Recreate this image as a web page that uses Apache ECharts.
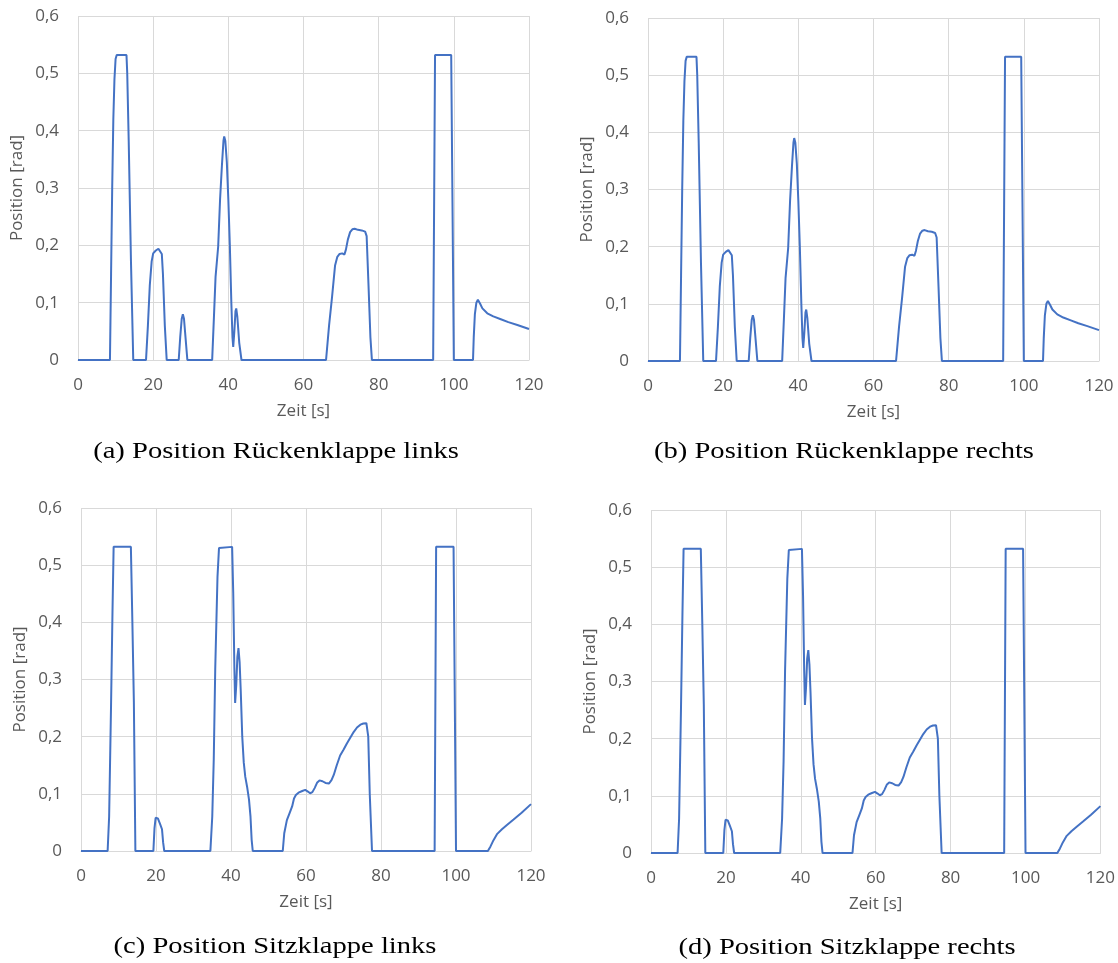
<!DOCTYPE html>
<html>
<head>
<meta charset="utf-8">
<script src="https://cdn.jsdelivr.net/npm/echarts@6/dist/echarts.min.js"></script>
<style>
  html, body { margin: 0; padding: 0; background: #fff; }
  #chart { width: 1118px; height: 963px; }
</style>
</head>
<body>
<div id="chart"></div>
<script>
// Axis ticks
const xTicks = [0, 20, 40, 60, 80, 100, 120];
const yTickLabels = ['0', '0,1', '0,2', '0,3', '0,4', '0,5', '0,6'];

// Panel captions
const captions = [
  '(a) Position Rückenklappe links',
  '(b) Position Rückenklappe rechts',
  '(c) Position Sitzklappe links',
  '(d) Position Sitzklappe rechts'
];

// Flap positions [Zeit s, Position rad]
const rueckenklappeLinks = [
  [0, 0], [8.5, 0], [8.8, 0.15], [9.1, 0.3], [9.4, 0.42], [9.7, 0.49], [10.0, 0.525], [10.3, 0.532],
  [12.9, 0.532], [13.1, 0.5], [13.5, 0.38], [14.1, 0.17], [14.7, 0],
  [18.1, 0], [18.6, 0.06], [19.1, 0.13], [19.6, 0.172], [20.0, 0.186], [20.7, 0.191], [21.4, 0.194],
  [21.9, 0.195], [22.3, 0.185], [22.6, 0.15], [23.1, 0.06], [23.6, 0],
  [26.8, 0], [27.2, 0.04], [27.6, 0.072], [27.9, 0.08], [28.2, 0.072], [28.6, 0.04], [29.1, 0],
  [35.7, 0], [36.2, 0.08], [36.6, 0.145], [37.3, 0.198], [37.8, 0.28], [38.3, 0.34], [38.7, 0.382],
  [38.9, 0.39], [39.2, 0.382], [39.6, 0.345], [40.0, 0.28], [40.4, 0.2], [40.8, 0.1], [41.1, 0.04],
  [41.3, 0.023], [41.6, 0.05], [41.9, 0.085], [42.1, 0.09], [42.4, 0.075], [42.9, 0.03], [43.5, 0],
  [66.0, 0], [66.8, 0.06], [67.6, 0.11], [68.4, 0.165], [69.0, 0.18], [69.6, 0.185], [70.3, 0.186],
  [70.9, 0.184], [71.3, 0.193], [71.8, 0.21], [72.4, 0.223], [73.0, 0.228], [73.6, 0.229], [74.5, 0.227],
  [75.5, 0.226], [76.4, 0.224], [76.8, 0.216], [77.3, 0.13], [77.8, 0.04], [78.2, 0],
  [94.5, 0], [95.0, 0.532], [99.3, 0.532], [100.0, 0],
  [105.1, 0], [105.3, 0.04], [105.6, 0.08], [106.0, 0.1], [106.4, 0.105], [107.0, 0.098], [107.6, 0.09],
  [108.9, 0.0815], [110.5, 0.076], [112.5, 0.071], [114.5, 0.066], [116.9, 0.061], [120, 0.054]
];

const rueckenklappeRechts = [
  [0, 0], [8.5, 0], [8.8, 0.15], [9.1, 0.3], [9.4, 0.42], [9.7, 0.49], [10.0, 0.525], [10.3, 0.532],
  [12.9, 0.532], [13.1, 0.5], [13.5, 0.38], [14.1, 0.17], [14.7, 0],
  [18.1, 0], [18.6, 0.06], [19.1, 0.13], [19.6, 0.172], [20.0, 0.186], [20.7, 0.191], [21.4, 0.194],
  [21.9, 0.195], [22.3, 0.185], [22.6, 0.15], [23.1, 0.06], [23.6, 0],
  [26.8, 0], [27.2, 0.04], [27.6, 0.072], [27.9, 0.08], [28.2, 0.072], [28.6, 0.04], [29.1, 0],
  [35.7, 0], [36.2, 0.08], [36.6, 0.145], [37.3, 0.198], [37.8, 0.28], [38.3, 0.34], [38.7, 0.382],
  [38.9, 0.39], [39.2, 0.382], [39.6, 0.345], [40.0, 0.28], [40.4, 0.2], [40.8, 0.1], [41.1, 0.04],
  [41.3, 0.023], [41.6, 0.05], [41.9, 0.085], [42.1, 0.09], [42.4, 0.075], [42.9, 0.03], [43.5, 0],
  [66.0, 0], [66.8, 0.06], [67.6, 0.11], [68.4, 0.165], [69.0, 0.18], [69.6, 0.185], [70.3, 0.186],
  [70.9, 0.184], [71.3, 0.193], [71.8, 0.21], [72.4, 0.223], [73.0, 0.228], [73.6, 0.229], [74.5, 0.227],
  [75.5, 0.226], [76.4, 0.224], [76.8, 0.216], [77.3, 0.13], [77.8, 0.04], [78.2, 0],
  [94.5, 0], [95.0, 0.532], [99.3, 0.532], [100.0, 0],
  [105.1, 0], [105.3, 0.04], [105.6, 0.08], [106.0, 0.1], [106.4, 0.105], [107.0, 0.098], [107.6, 0.09],
  [108.9, 0.0815], [110.5, 0.076], [112.5, 0.071], [114.5, 0.066], [116.9, 0.061], [120, 0.054]
];

const sitzklappeLinks = [
  [0, 0], [7.1, 0], [7.5, 0.06], [8.0, 0.25], [8.4, 0.42], [8.7, 0.532],
  [13.3, 0.532], [13.7, 0.4], [14.1, 0.26], [14.5, 0],
  [19.3, 0], [19.6, 0.04], [19.9, 0.058], [20.1, 0.061], [20.5, 0.057], [21.1, 0.047], [21.6, 0.038],
  [21.9, 0.015], [22.2, 0],
  [34.5, 0], [35.0, 0.06], [35.4, 0.16], [35.8, 0.32], [36.4, 0.48], [36.8, 0.53], [37.1, 0.532],
  [40.3, 0.532], [40.6, 0.45], [40.9, 0.32], [41.1, 0.259], [41.4, 0.29], [41.7, 0.34], [42.0, 0.355],
  [42.3, 0.33], [42.6, 0.28], [43.0, 0.2], [43.4, 0.155], [43.8, 0.13], [44.3, 0.112], [44.8, 0.09],
  [45.2, 0.06], [45.5, 0.02], [45.8, 0],
  [53.8, 0], [54.2, 0.031], [54.9, 0.054], [55.6, 0.066], [56.3, 0.078], [56.8, 0.092], [57.3, 0.098],
  [58.0, 0.102], [59.0, 0.105], [59.8, 0.107], [60.5, 0.104], [61.1, 0.101], [61.7, 0.103], [62.3, 0.11],
  [63.0, 0.12], [63.6, 0.1235], [64.4, 0.122], [65.2, 0.119], [66.1, 0.118], [66.8, 0.124], [67.4, 0.133],
  [68.2, 0.15], [69.1, 0.167], [70.0, 0.177], [70.9, 0.188], [71.8, 0.198], [72.7, 0.208], [73.6, 0.216],
  [74.5, 0.221], [75.3, 0.223], [76.1, 0.2235], [76.3, 0.222], [76.6, 0.2], [77.0, 0.1], [77.6, 0],
  [94.3, 0], [94.7, 0.532], [99.35, 0.532], [100.0, 0],
  [108.5, 0], [109.2, 0.008], [110.0, 0.019], [111.0, 0.03], [112.25, 0.038], [113.5, 0.045],
  [115.35, 0.055], [117.5, 0.067], [120, 0.082]
];

const sitzklappeRechts = [
  [0, 0], [7.1, 0], [7.5, 0.06], [8.0, 0.25], [8.4, 0.42], [8.7, 0.532],
  [13.3, 0.532], [13.7, 0.4], [14.1, 0.26], [14.5, 0],
  [19.3, 0], [19.6, 0.04], [19.9, 0.058], [20.1, 0.061], [20.5, 0.057], [21.1, 0.047], [21.6, 0.038],
  [21.9, 0.015], [22.2, 0],
  [34.5, 0], [35.0, 0.06], [35.4, 0.16], [35.8, 0.32], [36.4, 0.48], [36.8, 0.53], [37.1, 0.532],
  [40.3, 0.532], [40.6, 0.45], [40.9, 0.32], [41.1, 0.259], [41.4, 0.29], [41.7, 0.34], [42.0, 0.355],
  [42.3, 0.33], [42.6, 0.28], [43.0, 0.2], [43.4, 0.155], [43.8, 0.13], [44.3, 0.112], [44.8, 0.09],
  [45.2, 0.06], [45.5, 0.02], [45.8, 0],
  [53.8, 0], [54.2, 0.031], [54.9, 0.054], [55.6, 0.066], [56.3, 0.078], [56.8, 0.092], [57.3, 0.098],
  [58.0, 0.102], [59.0, 0.105], [59.8, 0.107], [60.5, 0.104], [61.1, 0.101], [61.7, 0.103], [62.3, 0.11],
  [63.0, 0.12], [63.6, 0.1235], [64.4, 0.122], [65.2, 0.119], [66.1, 0.118], [66.8, 0.124], [67.4, 0.133],
  [68.2, 0.15], [69.1, 0.167], [70.0, 0.177], [70.9, 0.188], [71.8, 0.198], [72.7, 0.208], [73.6, 0.216],
  [74.5, 0.221], [75.3, 0.223], [76.1, 0.2235], [76.3, 0.222], [76.6, 0.2], [77.0, 0.1], [77.6, 0],
  [94.3, 0], [94.7, 0.532], [99.35, 0.532], [100.0, 0],
  [108.5, 0], [109.2, 0.008], [110.0, 0.019], [111.0, 0.03], [112.25, 0.038], [113.5, 0.045],
  [115.35, 0.055], [117.5, 0.067], [120, 0.082]
];

const seriesData = [rueckenklappeLinks, rueckenklappeRechts, sitzklappeLinks, sitzklappeRechts];

// Panel placement (px)
const panels = [
  { grid: { left: 78, top: 16, width: 451, height: 344 }, caption: [276, 452] },
  { grid: { left: 648, top: 18, width: 451, height: 343 }, caption: [844, 452] },
  { grid: { left: 81, top: 508, width: 450, height: 343 }, caption: [275, 947] },
  { grid: { left: 651, top: 510, width: 451, height: 343 }, caption: [847, 948] }
];

const labelFont = 'Open Sans';
const labelColor = '#595959';
const gridColor = '#d9d9d9';
const lineColor = '#4472C4';

const grids = [], xAxes = [], yAxes = [], series = [], graphics = [];

panels.forEach((p, i) => {
  grids.push(Object.assign({ containLabel: false }, p.grid));
  xAxes.push({
    type: 'value', gridIndex: i,
    min: xTicks[0], max: xTicks[xTicks.length - 1], interval: xTicks[1] - xTicks[0],
    name: 'Zeit [s]', nameLocation: 'middle', nameGap: 43,
    nameTextStyle: { fontFamily: labelFont, fontSize: 17, color: labelColor },
    axisLine: { show: true, lineStyle: { color: gridColor, width: 1 } },
    axisTick: { show: false },
    axisLabel: { fontFamily: labelFont, fontSize: 17, color: labelColor, margin: 17 },
    splitLine: { show: true, lineStyle: { color: gridColor, width: 1 } }
  });
  yAxes.push({
    type: 'value', gridIndex: i,
    min: 0, max: 0.6, interval: 0.1,
    name: 'Position [rad]', nameLocation: 'middle', nameGap: 52,
    nameTextStyle: { fontFamily: labelFont, fontSize: 17, color: labelColor },
    axisLine: { show: false },
    axisTick: { show: false },
    axisLabel: {
      fontFamily: labelFont, fontSize: 17, color: labelColor, margin: 19,
      formatter: v => yTickLabels[Math.round(v * 10)]
    },
    splitLine: { show: true, lineStyle: { color: gridColor, width: 1 } }
  });
  series.push({
    type: 'line', xAxisIndex: i, yAxisIndex: i,
    data: seriesData[i],
    showSymbol: false, smooth: false,
    lineStyle: { color: lineColor, width: 2 },
    itemStyle: { color: lineColor }
  });
  graphics.push({
    type: 'text',
    x: p.caption[0], y: p.caption[1],
    scaleX: 1.19,
    style: {
      text: captions[i],
      fontFamily: 'Liberation Serif',
      fontSize: 24,
      fill: '#000',
      align: 'center',
      verticalAlign: 'middle'
    }
  });
});

const chart = echarts.init(document.getElementById('chart'), null, { renderer: 'canvas' });
chart.setOption({
  backgroundColor: '#ffffff',
  animation: false,
  grid: grids,
  xAxis: xAxes,
  yAxis: yAxes,
  series: series,
  graphic: graphics
});
</script>
</body>
</html>
